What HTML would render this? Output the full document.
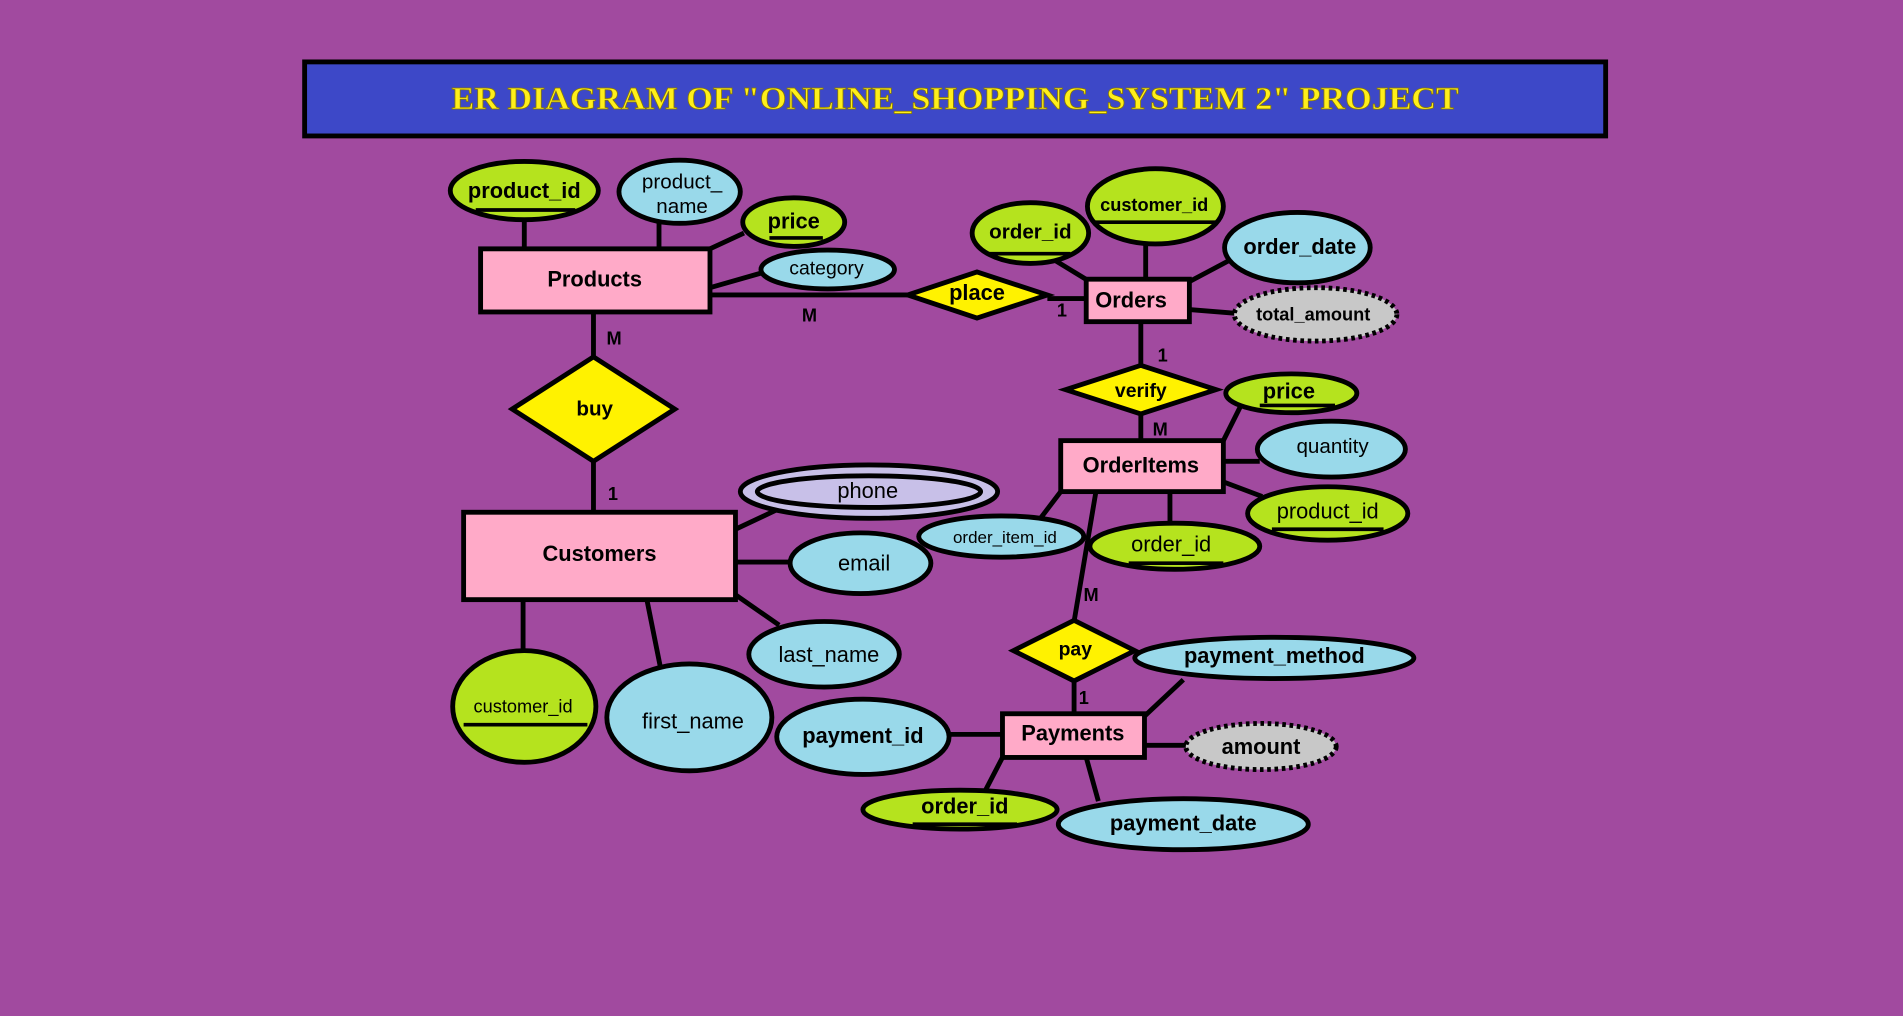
<!DOCTYPE html>
<html><head><meta charset="utf-8"><style>
html,body{margin:0;padding:0;background:#a14a9f;overflow:hidden}
svg{display:block}
text{font-family:"Liberation Sans",sans-serif;font-weight:bold;fill:#000;text-anchor:middle;dominant-baseline:central}
.n{font-weight:normal}
</style></head><body>
<svg width="1903" height="1016" viewBox="0 0 1568 837" preserveAspectRatio="none" xmlns="http://www.w3.org/2000/svg">
<rect width="1568" height="837" fill="#a14a9f"/>
<rect x="251" y="51" width="1072" height="61" fill="#3d48c8" stroke="#000" stroke-width="4"/>
<text x="787" y="81" style="font-family:'Liberation Serif',serif;font-size:26px;fill:#ffef1a;stroke:#8a7a00;stroke-width:0.6" textLength="830" lengthAdjust="spacingAndGlyphs">ER DIAGRAM OF "ONLINE_SHOPPING_SYSTEM 2" PROJECT</text>
<g stroke="#000" stroke-width="4" fill="none">
<line x1="432" y1="181" x2="432" y2="205"/><line x1="543" y1="184" x2="543" y2="205"/>
<line x1="585" y1="205" x2="613" y2="192"/><line x1="585" y1="237" x2="627" y2="225"/>
<line x1="585" y1="243" x2="748" y2="243"/><line x1="863" y1="246" x2="895" y2="246"/>
<line x1="870" y1="215" x2="898" y2="232"/><line x1="944" y1="200" x2="944" y2="230"/>
<line x1="980" y1="232" x2="1012" y2="215"/><line x1="980" y1="255" x2="1017" y2="258"/>
<line x1="940" y1="265" x2="940" y2="301"/><line x1="940" y1="341" x2="940" y2="365"/>
<line x1="1008" y1="363" x2="1022" y2="335"/><line x1="1008" y1="380" x2="1038" y2="380"/>
<line x1="1008" y1="397" x2="1040" y2="409"/>
<line x1="874" y1="405" x2="855" y2="430"/><line x1="964" y1="405" x2="964" y2="432"/>
<line x1="903" y1="405" x2="885" y2="512"/><line x1="885" y1="561" x2="885" y2="588"/>
<line x1="943" y1="590" x2="975" y2="560"/><line x1="943" y1="614" x2="978" y2="614"/>
<line x1="782" y1="605" x2="826" y2="605"/><line x1="826" y1="624" x2="812" y2="651"/>
<line x1="895" y1="624" x2="905" y2="660"/>
<line x1="489" y1="257" x2="489" y2="295"/><line x1="489" y1="380" x2="489" y2="422"/>
<line x1="606" y1="436" x2="640" y2="420"/><line x1="606" y1="463" x2="650" y2="463"/>
<line x1="606" y1="490" x2="642" y2="515"/><line x1="533" y1="494" x2="544" y2="549"/>
<line x1="431" y1="494" x2="431" y2="537"/>
</g>
<g stroke="#000" stroke-width="4">
<rect x="396" y="205" width="189" height="52" fill="#ffaac8"/>
<rect x="895" y="230" width="85" height="35" fill="#ffaac8"/>
<rect x="874" y="363" width="134" height="42" fill="#ffaac8"/>
<rect x="826" y="588" width="117" height="36" fill="#ffaac8"/>
<rect x="382" y="422" width="224" height="72" fill="#ffaac8"/>
<polygon points="748,243 805,224 863,243 805,262" fill="#fff200"/>
<polygon points="878,321 940,301 1002,321 940,341" fill="#fff200"/>
<polygon points="835,536 885,511 935,536 885,561" fill="#fff200"/>
<polygon points="422,337 489,294 556,337 489,380" fill="#fff200"/>
<ellipse cx="432" cy="157" rx="61" ry="24" fill="#b5e31e"/>
<ellipse cx="560" cy="158" rx="50" ry="26" fill="#99d9ea"/>
<ellipse cx="654" cy="183" rx="42" ry="20" fill="#b5e31e"/>
<ellipse cx="682" cy="222" rx="55" ry="16" fill="#99d9ea"/>
<ellipse cx="849" cy="192" rx="48" ry="25" fill="#b5e31e"/>
<ellipse cx="952" cy="170" rx="56" ry="31" fill="#b5e31e"/>
<ellipse cx="1069" cy="204" rx="60" ry="29" fill="#99d9ea"/>
<ellipse cx="1084" cy="259" rx="67" ry="22" fill="#c8c8c8" stroke-dasharray="3 3"/>
<ellipse cx="1064" cy="324" rx="54" ry="16" fill="#b5e31e"/>
<ellipse cx="1097" cy="370" rx="61" ry="23" fill="#99d9ea"/>
<ellipse cx="1094" cy="423" rx="66" ry="22" fill="#b5e31e"/>
<ellipse cx="825" cy="442" rx="68" ry="17" fill="#99d9ea"/>
<ellipse cx="968" cy="450" rx="70" ry="19" fill="#b5e31e"/>
<ellipse cx="1050" cy="542" rx="115" ry="17" fill="#99d9ea"/>
<ellipse cx="1039" cy="615" rx="62" ry="19" fill="#c8c8c8" stroke-dasharray="3 3"/>
<ellipse cx="711" cy="607" rx="71" ry="31" fill="#99d9ea"/>
<ellipse cx="791" cy="667" rx="80" ry="16" fill="#b5e31e"/>
<ellipse cx="975" cy="679" rx="103" ry="21" fill="#99d9ea"/>
<ellipse cx="716" cy="405" rx="106" ry="22" fill="#c8c0e8"/>
<ellipse cx="716" cy="405" rx="92" ry="13" fill="#c8c0e8"/>
<ellipse cx="709" cy="464" rx="58" ry="25" fill="#99d9ea"/>
<ellipse cx="679" cy="539" rx="62" ry="27" fill="#99d9ea"/>
<ellipse cx="568" cy="591" rx="68" ry="44" fill="#99d9ea"/>
<ellipse cx="432" cy="582" rx="59" ry="46" fill="#b5e31e"/>
</g>
<g stroke="#000" stroke-width="3">
<line x1="392" y1="173" x2="474" y2="173"/><line x1="634" y1="196" x2="678" y2="196"/>
<line x1="814" y1="209" x2="882" y2="209"/><line x1="902" y1="183" x2="1004" y2="183"/>
<line x1="1038" y1="334" x2="1100" y2="334"/><line x1="1048" y1="436" x2="1140" y2="436"/>
<line x1="930" y1="464" x2="1008" y2="464"/><line x1="752" y1="679" x2="838" y2="679"/>
<line x1="382" y1="597" x2="484" y2="597"/>
</g>
<g style="font-size:18px">
<text x="432" y="157">product_id</text>
<text x="562" y="150" class="n" style="font-size:17px">product_</text>
<text x="562" y="170" class="n" style="font-size:17px">name</text>
<text x="654" y="182">price</text>
<text x="681" y="221" class="n" style="font-size:16px">category</text>
<text x="490" y="230">Products</text>
<text x="805" y="241">place</text>
<text x="932" y="247">Orders</text>
<text x="849" y="191" style="font-size:17px">order_id</text>
<text x="951" y="169" style="font-size:15px">customer_id</text>
<text x="1071" y="203">order_date</text>
<text x="1082" y="259" style="font-size:15px">total_amount</text>
<text x="940" y="322" style="font-size:16px">verify</text>
<text x="1062" y="322">price</text>
<text x="1098" y="368" class="n" style="font-size:17px">quantity</text>
<text x="1094" y="421" class="n">product_id</text>
<text x="940" y="383">OrderItems</text>
<text x="828" y="443" class="n" style="font-size:14px">order_item_id</text>
<text x="965" y="448" class="n">order_id</text>
<text x="886" y="535" style="font-size:16px">pay</text>
<text x="884" y="604">Payments</text>
<text x="1050" y="540">payment_method</text>
<text x="1039" y="615">amount</text>
<text x="711" y="606">payment_id</text>
<text x="795" y="664">order_id</text>
<text x="975" y="678">payment_date</text>
<text x="490" y="337" style="font-size:17px">buy</text>
<text x="494" y="456">Customers</text>
<text x="715" y="404" class="n">phone</text>
<text x="712" y="464" class="n">email</text>
<text x="683" y="539" class="n">last_name</text>
<text x="571" y="594" class="n">first_name</text>
<text x="431" y="582" class="n" style="font-size:15px">customer_id</text>
</g>
<g style="font-size:15px">
<text x="667" y="260">M</text><text x="875" y="256">1</text>
<text x="958" y="293">1</text><text x="956" y="354">M</text>
<text x="506" y="279">M</text><text x="505" y="407">1</text>
<text x="899" y="490">M</text><text x="893" y="575">1</text>
</g>
</svg>
</body></html>
